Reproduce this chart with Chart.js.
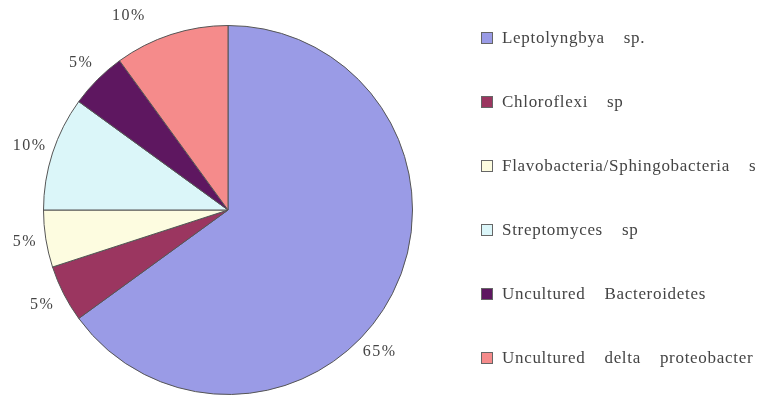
<!DOCTYPE html>
<html>
<head>
<meta charset="utf-8">
<script src="https://cdn.jsdelivr.net/npm/chart.js@4/dist/chart.umd.min.js"></script>
<style>
  body { margin: 0; background: #fff; }
</style>
</head>
<body>
<canvas id="myChart" width="764" height="396"></canvas>
<script>
// slices, clockwise from 12 o'clock
const labels = ["Leptolyngbya sp.", "Chloroflexi sp", "Flavobacteria/Sphingobacteria s",
                "Streptomyces sp", "Uncultured Bacteroidetes", "Uncultured delta proteobacter"];
const shares = [65, 5, 5, 10, 5, 10];
const colors = ['#9a9be6', '#9b3660', '#fdfce0', '#dbf6f9', '#5e1760', '#f58b8b'];

// small nudges so percent labels sit where the original put them
const labelNudge = [
    { da: 16, dr: 23 }, { da: 0, dr: 24 }, { da: 0, dr: 21 },
    { da: 0, dr: 24 }, { da: 0, dr: 23 }, { da: -9, dr: 34 }
];

const serif = '"Liberation Serif", "DejaVu Serif", serif';

const labelsPlugin = {
    id: 'pieText',
    afterDraw(chart) {
        const ctx = chart.ctx;
        const meta = chart.getDatasetMeta(0);
        ctx.save();
        ctx.fillStyle = '#444';
        ctx.font = '16px ' + serif;
        ctx.letterSpacing = '1.5px';
        ctx.textAlign = 'center';
        ctx.textBaseline = 'middle';
        meta.data.forEach(function (arc, i) {
            const p = arc.getProps(['x', 'y', 'startAngle', 'endAngle', 'outerRadius'], true);
            const a = (p.startAngle + p.endAngle) / 2 + labelNudge[i].da * Math.PI / 180;
            const r = p.outerRadius + labelNudge[i].dr;
            ctx.fillText(shares[i] + '%', p.x + Math.cos(a) * r, p.y + Math.sin(a) * r);
        });

        // legend on the right
        ctx.textAlign = 'left';
        ctx.font = '17px ' + serif;
        ctx.letterSpacing = '0.7px';
        ctx.wordSpacing = '14px';
        labels.forEach(function (lab, i) {
            const y = 38 + i * 64;
            ctx.fillStyle = colors[i];
            ctx.fillRect(481, y - 6, 12, 12);
            ctx.strokeStyle = '#666';
            ctx.lineWidth = 1;
            ctx.strokeRect(481.5, y - 5.5, 11, 11);
            ctx.fillStyle = '#444';
            ctx.fillText(lab, 502, y + 1);
        });
        ctx.restore();
    }
};

const ctx = document.getElementById('myChart').getContext('2d');
const myChart = new Chart(ctx, {
    type: 'pie',
    data: {
        labels: labels,
        datasets: [{
            data: shares,
            backgroundColor: colors,
            borderColor: '#555',
            borderWidth: 1
        }]
    },
    options: {
        responsive: false,
        animation: false,
        layout: { padding: { left: 43, right: 351, top: 25, bottom: 1 } },
        plugins: {
            legend: { display: false },
            tooltip: { enabled: false }
        }
    },
    plugins: [labelsPlugin]
});
</script>
</body>
</html>
